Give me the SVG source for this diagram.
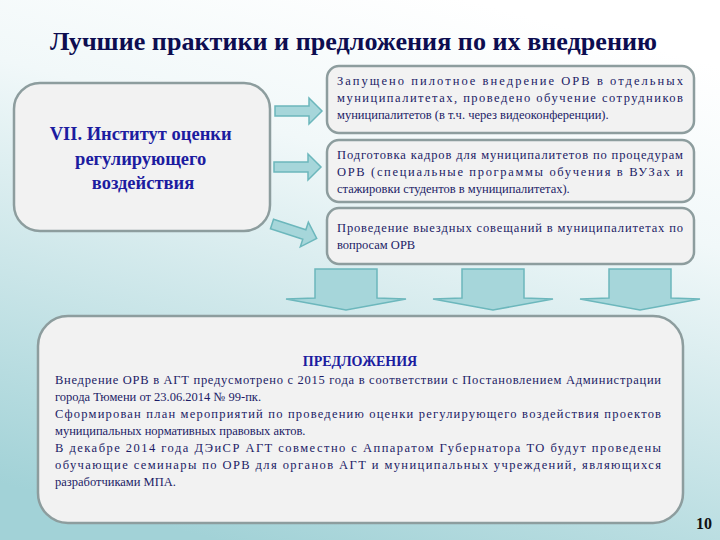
<svg xmlns="http://www.w3.org/2000/svg" width="720" height="540" viewBox="0 0 720 540">
<defs>
<linearGradient id="bg" x1="0.65" y1="0" x2="0.3" y2="1">
<stop offset="0" stop-color="#ffffff"/>
<stop offset="0.3" stop-color="#f1f8f9"/>
<stop offset="1" stop-color="#a2d2d7"/>
</linearGradient>
<path id="rarrow" d="M0,-5 L34,-5 L34,-13 L47,0 L34,13 L34,5 L0,5 Z" fill="#a6d6da" stroke="#6cb7bc" stroke-width="1.5"/>
<path id="darrow" d="M-31,0 L31,0 L31,29 L60,30 L0,41 L-60,30 L-31,29 Z" fill="#a6d6da" stroke="#6cb7bc" stroke-width="1.5"/>
</defs>
<rect x="0" y="0" width="720" height="540" fill="url(#bg)"/>
<text style="font-family:'Liberation Serif',serif;font-weight:bold;font-size:25px" x="50" y="50" fill="#0d0d50" textLength="607" lengthAdjust="spacingAndGlyphs">Лучшие практики и предложения по их внедрению</text>

<g id="connectors">
<use href="#rarrow" transform="translate(275,111)"/>
<use href="#rarrow" transform="translate(274,167)"/>
<use href="#rarrow" transform="translate(272,224) rotate(18)"/>
<use href="#darrow" transform="translate(346,269)"/>
<use href="#darrow" transform="translate(493,269)"/>
<use href="#darrow" transform="translate(640,269)"/>
</g>

<g id="nodes" stroke="#8d9d9e" stroke-width="2.5">
<g id="institute">
<rect x="14" y="83" width="256" height="148" rx="26" fill="#f2f2f2"/>
<text style="font-family:'Liberation Serif',serif;font-weight:bold;font-size:18.5px" stroke="none" fill="#1c1ca0" text-anchor="middle">
<tspan x="143" y="140">VII. Институт оценки</tspan>
<tspan x="143" y="165">регулирующего</tspan>
<tspan x="143" y="189">воздействия</tspan>
</text>
</g>

<g id="pilot">
<rect x="327" y="66" width="367" height="67" rx="12" fill="#f2f2f2"/>
<g stroke="none" fill="#1c1c66">
<text style="font-family:'Liberation Serif',serif;font-size:12.5px" x="337" y="85" textLength="346">Запущено пилотное внедрение ОРВ в отдельных</text>
<text style="font-family:'Liberation Serif',serif;font-size:12.5px" x="337" y="102" textLength="346">муниципалитетах, проведено обучение сотрудников</text>
<text style="font-family:'Liberation Serif',serif;font-size:12.5px" x="337" y="119">муниципалитетов (в т.ч. через видеоконференции).</text>
</g>
</g>

<g id="training">
<rect x="327" y="140" width="367" height="62" rx="12" fill="#f2f2f2"/>
<g stroke="none" fill="#1c1c66">
<text style="font-family:'Liberation Serif',serif;font-size:12.5px" x="337" y="159" textLength="346">Подготовка кадров для муниципалитетов по процедурам</text>
<text style="font-family:'Liberation Serif',serif;font-size:12.5px" x="337" y="176" textLength="346">ОРВ (специальные программы обучения в ВУЗах и</text>
<text style="font-family:'Liberation Serif',serif;font-size:12.5px" x="337" y="193">стажировки студентов в муниципалитетах).</text>
</g>
</g>

<g id="meetings">
<rect x="327" y="208" width="367" height="56" rx="12" fill="#f2f2f2"/>
<g stroke="none" fill="#1c1c66">
<text style="font-family:'Liberation Serif',serif;font-size:12.5px" x="337" y="232" textLength="346">Проведение выездных совещаний в муниципалитетах по</text>
<text style="font-family:'Liberation Serif',serif;font-size:12.5px" x="337" y="249">вопросам ОРВ</text>
</g>
</g>

<g id="proposals">
<rect x="38" y="316" width="645" height="207" rx="30" fill="#f2f2f2"/>
<g stroke="none" fill="#1c1c66">
<text style="font-family:'Liberation Serif',serif;font-weight:bold;font-size:14px" x="360" y="366" fill="#1c1ca0" text-anchor="middle">ПРЕДЛОЖЕНИЯ</text>
<text style="font-family:'Liberation Serif',serif;font-size:12.5px" x="55" y="384" textLength="606">Внедрение ОРВ в АГТ предусмотрено с 2015 года в соответствии с Постановлением Администрации</text>
<text style="font-family:'Liberation Serif',serif;font-size:12.5px" x="55" y="401">города Тюмени от 23.06.2014 № 99-пк.</text>
<text style="font-family:'Liberation Serif',serif;font-size:12.5px" x="55" y="418" textLength="606">Сформирован план мероприятий по проведению оценки регулирующего воздействия проектов</text>
<text style="font-family:'Liberation Serif',serif;font-size:12.5px" x="55" y="435">муниципальных нормативных правовых актов.</text>
<text style="font-family:'Liberation Serif',serif;font-size:12.5px" x="55" y="452" textLength="606">В декабре 2014 года ДЭиСР АГТ совместно с Аппаратом Губернатора ТО будут проведены</text>
<text style="font-family:'Liberation Serif',serif;font-size:12.5px" x="55" y="469" textLength="606">обучающие семинары по ОРВ для органов АГТ и муниципальных учреждений, являющихся</text>
<text style="font-family:'Liberation Serif',serif;font-size:12.5px" x="55" y="486">разработчиками МПА.</text>
</g>
</g>
</g>

<text style="font-family:'Liberation Serif',serif;font-weight:bold;font-size:16px" x="712" y="529" fill="#111111" text-anchor="end">10</text>
</svg>
